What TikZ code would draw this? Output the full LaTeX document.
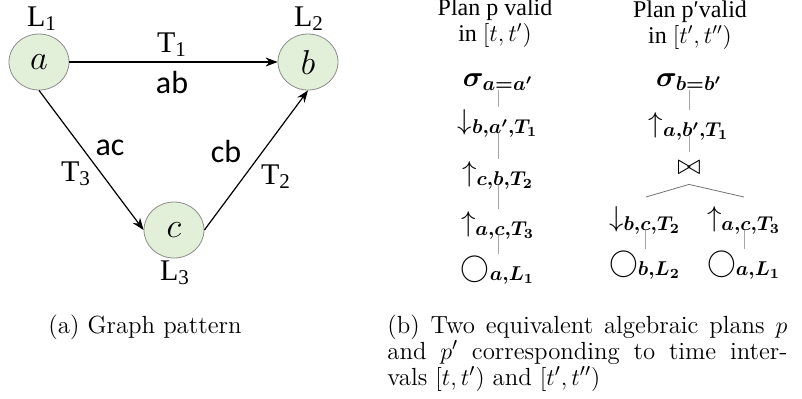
\documentclass[tikz,border=0pt]{standalone}
\usepackage{amsmath,amssymb,bm}
\usepackage{fontspec}
\newfontfamily\camfont{Liberation Serif}
\newfontfamily\calfont{Carlito}
\usetikzlibrary{positioning, arrows.meta, shapes.geometric}
\definecolor{vfill}{HTML}{E2EFD9}
\definecolor{vline}{HTML}{8C8C8C}

\begin{document}
\begin{tikzpicture}[x=0.5pt, y=-0.5pt, >={Stealth[length=6pt, width=4.5pt]},
    vertex/.style={ellipse, draw=vline, fill=vfill, minimum width=30pt, minimum height=28pt, inner sep=0pt, font=\fontsize{17}{19}\selectfont},
    lbl/.style={font=\camfont\fontsize{15}{17}\selectfont, inner sep=0pt},
    elbl/.style={font=\calfont\fontsize{16}{18}\selectfont, inner sep=0pt},
    trans/.style={->, semithick},
    plantitle/.style={align=center, font=\camfont\fontsize{12}{13}\selectfont, inner sep=0pt},
    op/.style={inner sep=0pt, text height=6pt, text depth=2pt, font=\fontsize{14.4}{16}\selectfont},
    link/.style={draw=gray!70, thin, shorten >=5pt},
    caption/.style={inner sep=0pt, font=\fontsize{12.4}{13}\selectfont}]
    \useasboundingbox (0,0) rectangle (802,398);

    % graph pattern
    \node[vertex] (a) at (39,62) {$a$};
    \node[vertex] (b) at (308,62) {$b$};
    \node[vertex] (c) at (174,230) {$c$};
    \node[lbl] (la) at (42,19) {L\textsubscript{1}};
    \node[lbl] (lb) at (309,19) {L\textsubscript{2}};
    \node[lbl] (lc) at (175,273) {L\textsubscript{3}};
    \draw[trans] (a) -- (b);
    \draw[trans] (a.south) -- (c.west);
    \draw[trans] (c.east) -- (b.south);
    \node[lbl] (t1) at (172,45) {T\textsubscript{1}};
    \node[elbl] (ab) at (172,83) {ab};
    \node[elbl] (ac) at (110,148) {ac};
    \node[lbl] (t3) at (76,174) {T\textsubscript{3}};
    \node[elbl] (cb) at (226,151) {cb};
    \node[lbl] (t2) at (276,177) {T\textsubscript{2}};

    % plan p
    \node[plantitle] (hp) at (495,23) {Plan p valid\\in $[t,t')$};
    \node[op] (s1) at (498,82) {$\bm{\sigma}_{\bm{a=a'}}$};
    \node[op] (d1) at (498,125) {$\downarrow_{\bm{b,a',T_1}}$};
    \node[op] (u1) at (498,177) {$\uparrow_{\bm{c,b,T_2}}$};
    \node[op] (u2) at (498,227) {$\uparrow_{\bm{a,c,T_3}}$};
    \node[op] (o1) at (498,272) {$\bigcirc_{\bm{a,L_1}}$};
    \draw[link] (s1) -- (d1);
    \draw[link] (d1) -- (u1);
    \draw[link] (u1) -- (u2);
    \draw[link] (u2) -- (o1);

    % plan p'
    \node[plantitle] (hq) at (690,25) {Plan p′valid\\in $[t',t'')$};
    \node[op] (s2) at (689,82) {$\bm{\sigma}_{\bm{b=b'}}$};
    \node[op] (u3) at (689,128) {$\uparrow_{\bm{a,b',T_1}}$};
    \node[op] (j) at (689,170) {$\bowtie$};
    \node[op] (d2) at (645,222) {$\downarrow_{\bm{b,c,T_2}}$};
    \node[op] (u4) at (744,222) {$\uparrow_{\bm{a,c,T_3}}$};
    \node[op] (o2) at (645,267) {$\bigcirc_{\bm{b,L_2}}$};
    \node[op] (o3) at (744,267) {$\bigcirc_{\bm{a,L_1}}$};
    \coordinate (jl) at (646,197);
    \coordinate (jr) at (744,197);
    \draw[link] (s2) -- (u3);
    \draw[link] (u3) -- (j);
    \draw[draw=gray!90!black, thin] (jl) -- ([yshift=-3pt]j.south) -- (jr);
    \draw[link] (d2) -- (o2);
    \draw[link] (u4) -- (o3);

    % captions
    \node[caption, anchor=west] (capa) at (48,327) {(a) Graph pattern};
    \node[caption, anchor=north west, text width=200pt, align=justify] (capb) at (387,314)
        {(b) Two equivalent algebraic plans $p$\linebreak and $p'$ corresponding to time inter-\linebreak vals $[t,t')$ and $[t',t'')$};
\end{tikzpicture}
\end{document}
